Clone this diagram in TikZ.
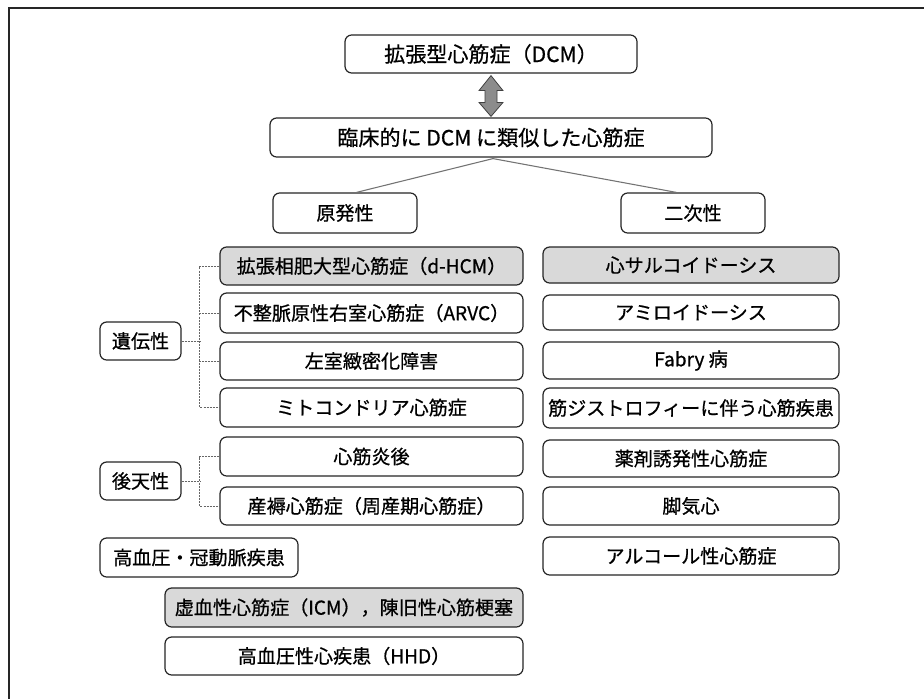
\documentclass[tikz,border=0pt]{standalone}
\usepackage{fontspec}
\setmainfont{Noto Sans CJK JP}[FakeBold=0.7]
\usetikzlibrary{calc}
\newcommand\mybox[7][]{%
  \pgfmathsetmacro\bcx{(#3+#5)/2}\pgfmathsetmacro\bcy{(#4+#6)/2}%
  \pgfmathsetmacro\bww{(#5-#3)*0.75}\pgfmathsetmacro\bhh{(#6-#4)*0.75}%
  \node[box,#1,minimum width=\bww pt,minimum height=\bhh pt] (#2) at (\bcx,\bcy) {#7};}
\begin{document}
\begin{tikzpicture}[x=0.75pt,y=-0.75pt,
  box/.style={draw=black!85, line width=0.9pt, rounded corners=5pt, inner sep=0pt, align=center, font=\fontsize{14.3pt}{16pt}\selectfont},
  big/.style={font=\fontsize{15.8pt}{18pt}\selectfont},
  shade/.style={fill=black!15},
  conn/.style={draw=black!55, line width=0.8pt},
  br/.style={draw=black!60, line width=0.6pt, dash pattern=on 1.5pt off 0.8pt},
  darrow/.style={fill=black!45, draw=black!75, line width=0.6pt}]
\useasboundingbox (0,0) rectangle (924,699);
\fill[white] (0,0) rectangle (924,699);
\draw[black!85, line width=1.1pt] (924,8) -- (9,8) -- (9,699);

\mybox[big]{top}{345}{35}{637}{73}{拡張型心筋症（DCM）}
\mybox[big]{mid}{270}{118}{712}{157}{臨床的に DCM に類似した心筋症}
\mybox{gen}{273}{193}{417}{233}{原発性}
\mybox{sec}{621}{193}{765}{233}{二次性}

\mybox[shade]{l1}{220}{247}{523}{285}{拡張相肥大型心筋症（d-HCM）}
\mybox{l2}{220}{293}{523}{333}{不整脈原性右室心筋症（ARVC）}
\mybox{l3}{220}{342}{523}{380}{左室緻密化障害}
\mybox{l4}{220}{388}{523}{427}{ミトコンドリア心筋症}
\mybox{l5}{220}{437}{523}{476}{心筋炎後}
\mybox{l6}{220}{487}{523}{525}{産褥心筋症（周産期心筋症）}
\mybox{iden}{100}{322}{181}{360}{遺伝性}
\mybox{koten}{100}{462}{181}{500}{後天性}
\mybox{htn}{100}{538}{298}{577}{高血圧・冠動脈疾患}
\mybox[shade]{icm}{165}{588}{523}{627}{虚血性心筋症（ICM），陳旧性心筋梗塞}
\mybox{hhd}{165}{637}{523}{675}{高血圧性心疾患（HHD）}

\mybox[shade]{r1}{543}{247}{839}{283}{心サルコイドーシス}
\mybox{r2}{543}{295}{839}{330}{アミロイドーシス}
\mybox{r3}{543}{342}{839}{379}{Fabry 病}
\mybox{r4}{543}{388}{839}{428}{筋ジストロフィーに伴う心筋疾患}
\mybox{r5}{543}{440}{839}{477}{薬剤誘発性心筋症}
\mybox{r6}{543}{487}{839}{525}{脚気心}
\mybox{r7}{543}{537}{839}{575}{アルコール性心筋症}

% double arrow
\coordinate (au) at ($(top.south)+(0,2)$);
\coordinate (ad) at ($(mid.north)+(0,-1)$);
\draw[darrow] (au) -- ($(au)+(12,15)$) -- ($(au)+(6,15)$) -- ($(ad)+(6,-14)$) -- ($(ad)+(12,-14)$)
  -- (ad) -- ($(ad)+(-12,-14)$) -- ($(ad)+(-6,-14)$) -- ($(au)+(-6,15)$) -- ($(au)+(-12,15)$) -- cycle;

% connectors
\draw[conn] ($(mid.south)+(2,1)$) -- ($(gen.north west)+(84,0)$);
\draw[conn] ($(mid.south)+(2,1)$) -- ($(sec.north west)+(56,0)$);

% brackets
\draw[br] (l1.west) -- ++(-20,0) |- (l4.west);
\draw[br] (l2.west) -- ++(-20,0);
\draw[br] (l3.west) -- ++(-20,0);
\draw[br] (iden.east) -- ++(19,0);
\draw[br] (l5.west) -- ++(-20,0) |- (l6.west);
\draw[br] (koten.east) -- ++(19,0);
\end{tikzpicture}
\end{document}
